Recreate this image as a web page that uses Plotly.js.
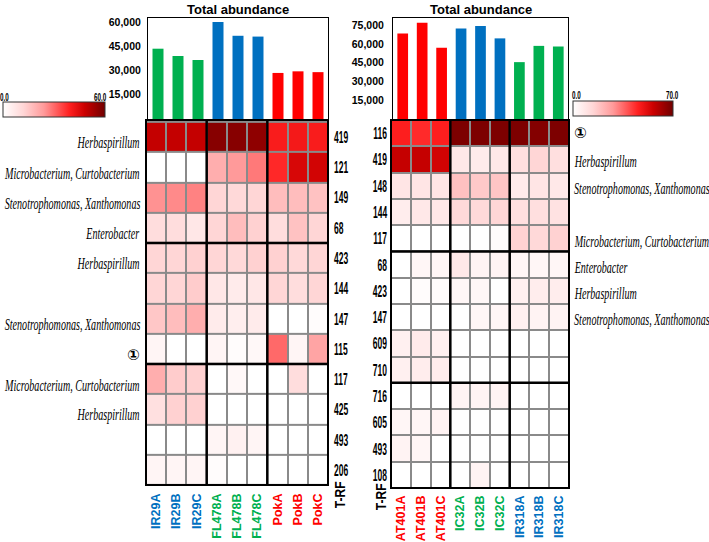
<!DOCTYPE html>
<html><head><meta charset="utf-8">
<script src="https://cdn.plot.ly/plotly-3.0.1.min.js"></script>
<style>html,body{margin:0;padding:0;background:#fff}#chart{width:709px;height:542px}</style>
</head><body><div id="chart"></div>
<script>
// ---- data ----
const leftCols = ["IR29A","IR29B","IR29C","FL478A","FL478B","FL478C","PokA","PokB","PokC"];
const leftBars = [43500, 39000, 36500, 60000, 51500, 51000, 28500, 29500, 29000];
const leftRows = ["419","121","149","68","423","144","147","115","117","425","493","206"];
const leftSpecies = ["Herbaspirillum","Microbacterium, Curtobacterium","Stenotrophomonas, Xanthomonas","Enterobacter","Herbaspirillum","","Stenotrophomonas, Xanthomonas","①","Microbacterium, Curtobacterium","Herbaspirillum","",""];
const leftZ = [
  [49,49,49,57,57,56,40,41,40],
  [0,0,0,20,24,28,38,46,47],
  [25,26,27,12,11,12,17,17,16],
  [10,10,7,12,17,13,10,16,12],
  [12,12,13,12,11,13,13,11,12],
  [12,12,14,7,6,7,12,10,12],
  [15,17,20,6,5,6,0,0,1],
  [3,0,0,3,1,2,30,3,22],
  [20,14,13,0,2,0,0,10,0],
  [9,13,13,0,0,0,0,0,0],
  [0,0,0,3,4,3,0,0,0],
  [3,3,3,1,0,0,0,0,0]
];
const leftMax = 60;

const rightCols = ["AT401A","AT401B","AT401C","IC32A","IC32B","IC32C","IR318A","IR318B","IR318C"];
const rightBars = [68500, 77000, 57000, 72500, 74500, 64500, 45500, 58500, 58000];
const rightRows = ["116","419","148","144","117","68","423","147","609","710","716","605","493","108"];
const rightSpecies = ["①","Herbaspirillum","Stenotrophomonas, Xanthomonas","","Microbacterium, Curtobacterium","Enterobacter","Herbaspirillum","Stenotrophomonas, Xanthomonas","","","","","",""];
const rightZ = [
  [46,44,46,68,68,68,68,67,68],
  [57,57,55,8,7,8,11,14,11],
  [9,9,9,19,17,18,7,9,8],
  [6,8,8,13,13,14,11,11,10],
  [0,0,0,0,0,1,15,13,15],
  [0,3,3,8,4,4,3,3,3],
  [0,1,1,3,3,0,5,6,6],
  [0,0,0,0,3,3,5,4,4],
  [5,7,5,0,0,0,0,0,0],
  [5,6,6,0,0,0,0,0,0],
  [0,0,0,4,4,4,0,0,0],
  [3,3,4,0,0,0,0,0,0],
  [4,3,0,0,0,0,0,0,0],
  [0,0,0,0,4,0,0,0,0]
];
const rightMax = 70;
const barTicks = {left:[15000,30000,45000,60000], right:[15000,30000,45000,60000,75000]};
const titleText = "Total abundance";
const trfLabel = "T-RF";

// ---- style ----
const W = 709, H = 542;
const px = v => v / W, py = v => 1 - v / H;
const BLUE = "#0070c0", GREEN = "#00b050", RED = "#ff0000";
const leftBarColors = [GREEN,GREEN,GREEN,BLUE,BLUE,BLUE,RED,RED,RED];
const leftLabelColors = [BLUE,BLUE,BLUE,GREEN,GREEN,GREEN,RED,RED,RED];
const rightBarColors = [RED,RED,RED,BLUE,BLUE,BLUE,GREEN,GREEN,GREEN];
const rightLabelColors = [RED,RED,RED,GREEN,GREEN,GREEN,BLUE,BLUE,BLUE];
const SANS = "'Liberation Sans',Arial,sans-serif";
const SERIF = "'Liberation Serif','Times New Roman',serif";
const CIRC = "'DejaVu Sans','Noto Sans CJK JP',sans-serif";
const cscale = [[0,'#ffffff'],[0.2,'#ffd6d6'],[0.4,'#ff9a9a'],[0.65,'#ff2020'],[0.8,'#cc0000'],[1,'#700000']];

const colored = (arr, cols) => arr.map((t,i)=>`<b><span style="color:${cols[i]}">${t}</span></b>`);

const traces = [
  {type:'bar', x:leftCols, y:leftBars, xaxis:'x', yaxis:'y', marker:{color:leftBarColors}, width:0.55, hoverinfo:'skip'},
  {type:'heatmap', x:leftCols, y:leftRows, z:leftZ, xaxis:'x2', yaxis:'y2', zmin:0, zmax:leftMax,
   colorscale:cscale, xgap:2, ygap:2, hoverinfo:'skip',
   colorbar:{orientation:'h', x:px(54), xanchor:'center', y:py(118), yanchor:'bottom', len:102/W, lenmode:'fraction',
             thickness:15, xpad:0, ypad:0, outlinewidth:1, outlinecolor:'#333', showticklabels:false, ticks:''}},
  {type:'bar', x:rightCols, y:rightBars, xaxis:'x3', yaxis:'y3', marker:{color:rightBarColors}, width:0.55, hoverinfo:'skip'},
  {type:'heatmap', x:rightCols, y:rightRows, z:rightZ, xaxis:'x4', yaxis:'y4', zmin:0, zmax:rightMax,
   colorscale:cscale, xgap:2, ygap:2, hoverinfo:'skip',
   colorbar:{orientation:'h', x:px(623), xanchor:'center', y:py(117), yanchor:'bottom', len:100/W, lenmode:'fraction',
             thickness:15, xpad:0, ypad:0, outlinewidth:1, outlinecolor:'#333', showticklabels:false, ticks:''}}
];

const barY = (dom, rng, ticks, anchor, standoff) => ({domain:dom, anchor:anchor, range:rng, tickvals:ticks, tickformat:',', showgrid:false, zeroline:false,
  showline:true, mirror:true, linecolor:'#000', linewidth:1, ticks:'', ticklabelstandoff:standoff,
  tickfont:{family:SANS, size:10.5, color:'#000', weight:'bold'}});
const barX = (dom, anchor) => ({domain:dom, anchor:anchor, range:[-0.5,8.5], showticklabels:false, showline:true, mirror:true,
  linecolor:'#000', linewidth:1, ticks:'', showgrid:false, zeroline:false});

const layout = {
  width:W, height:H, margin:{l:0,r:0,t:0,b:0}, paper_bgcolor:'#fff', plot_bgcolor:'rgba(0,0,0,0)',
  showlegend:false, font:{family:SANS, color:'#000'},
  xaxis: barX([px(148), px(328)], 'y'),
  yaxis: barY([py(119), py(18)], [0, 62500], barTicks.left, 'x', 4),
  xaxis2:{domain:[px(146), px(328)], anchor:'y2', type:'category', tickvals:leftCols, ticktext:colored(leftCols, leftLabelColors),
    tickangle:-90, ticks:'', showgrid:false, zeroline:false, showline:false, ticklabelstandoff:5,
    tickfont:{family:SANS, size:12.5}},
  yaxis2:{domain:[py(485), py(120)], anchor:'x2', type:'category', autorange:'reversed', side:'right', ticks:'',
    showgrid:false, zeroline:false, showline:false, ticklabelstandoff:5,
    tickfont:{family:SANS, size:17, color:'#000', weight:'bold'}},
  xaxis3: barX([px(393), px(568)], 'y3'),
  yaxis3: barY([py(119), py(18)], [0, 80800], barTicks.right, 'x3', 6),
  xaxis4:{domain:[px(391), px(569)], anchor:'y4', type:'category', tickvals:rightCols, ticktext:colored(rightCols, rightLabelColors),
    tickangle:-90, ticks:'', showgrid:false, zeroline:false, showline:false, ticklabelstandoff:4,
    tickfont:{family:SANS, size:12.5}},
  yaxis4:{domain:[py(488), py(120)], anchor:'x4', type:'category', autorange:'reversed', side:'left', ticks:'',
    showgrid:false, zeroline:false, showline:false, ticklabelstandoff:3,
    tickfont:{family:SANS, size:17, color:'#000', weight:'bold'}},
  shapes:[], annotations:[]
};

function heatDeco(xa, ya, vlines, hlines){
  const xr = xa + ' domain', yr = ya + ' domain';
  layout.shapes.push({type:'rect', xref:xr, yref:yr, x0:0, x1:1, y0:0, y1:1, fillcolor:'#8a8a8a', line:{width:0}, layer:'below'});
  vlines.forEach(v => layout.shapes.push({type:'line', xref:xa, yref:yr, x0:v, x1:v, y0:0, y1:1, line:{color:'#000', width:2.5}}));
  hlines.forEach(h => layout.shapes.push({type:'line', xref:xr, yref:ya, x0:0, x1:1, y0:h, y1:h, line:{color:'#000', width:2.5}}));
  layout.shapes.push({type:'rect', xref:xr, yref:yr, x0:0, x1:1, y0:0, y1:1, line:{color:'#000', width:2}});
}
heatDeco('x2','y2',[2.5,5.5],[3.5,7.5]);
heatDeco('x4','y4',[2.5,5.5],[4.5,9.5]);

// squeeze registry: annotation index -> [scaleX, anchor]
const squeeze = {};
const addAnn = (a, sq) => { if (sq) squeeze[layout.annotations.length] = sq; layout.annotations.push(a); };

// titles
addAnn({text:`<b>${titleText}</b>`, xref:'x domain', yref:'paper', x:0.5, y:py(0), yanchor:'top', showarrow:false, font:{family:SANS, size:13}});
addAnn({text:`<b>${titleText}</b>`, xref:'x3 domain', yref:'paper', x:0.5, y:py(0), yanchor:'top', showarrow:false, font:{family:SANS, size:13}});
// colorbar end labels
const cbLab = (t, x, y) => addAnn({text:`<b>${t}</b>`, xref:'paper', yref:'paper', x:px(x), y:py(y), xanchor:'center', yanchor:'middle', showarrow:false, font:{family:SANS, size:10.5}}, [0.6,'middle']);
cbLab('0.0', 4, 97); cbLab(leftMax.toFixed(1), 100, 97);
cbLab('0.0', 576, 95); cbLab(rightMax.toFixed(1), 672, 95);
// T-RF labels
const trf = (x, y) => addAnn({text:`<b>${trfLabel}</b>`, xref:'paper', yref:'paper', x:px(x), y:py(y), textangle:-90, showarrow:false, font:{family:SANS, size:15}}, [0.8,'middle']);
trf(340, 514); trf(381, 516);
// species labels
const spFont = {family:SERIF, size:16, style:'italic'};
const circFont = {family:CIRC, size:15, weight:'bold'};
leftSpecies.forEach((s,i) => { if (s) addAnn({text:s, xref:'paper', yref:'y2', x:px(142), y:i, yshift:-6, xanchor:'right', yanchor:'middle', showarrow:false,
  font: s === '①' ? circFont : spFont}, s === '①' ? null : [0.63,'end']); });
rightSpecies.forEach((s,i) => { if (s) addAnn({text:s, xref:'paper', yref:'y4', x:px(572), y:i, yshift: s === '①' ? 0 : -3, xanchor:'left', yanchor:'middle', showarrow:false,
  font: s === '①' ? circFont : spFont}, s === '①' ? null : [0.63,'start']); });

function squeezeText(t, sx, anchor){
  const bb = t.getBBox();
  const ax = anchor === 'end' ? bb.x + bb.width : anchor === 'start' ? bb.x : bb.x + bb.width / 2;
  const prev = t.getAttribute('transform') || '';
  t.setAttribute('transform', `${prev} translate(${ax},0) scale(${sx},1) translate(${-ax},0)`);
}

Plotly.newPlot('chart', traces, layout, {staticPlot:true, displayModeBar:false}).then(gd => {
  gd.querySelectorAll('.annotation').forEach(g => {
    const sq = squeeze[+g.getAttribute('data-index')];
    if (!sq) return;
    const t = g.querySelector('text.annotation-text');
    if (t) squeezeText(t, sq[0], sq[1]);
  });
  gd.querySelectorAll('.y2tick text').forEach(t => squeezeText(t, 0.5, 'start'));
  gd.querySelectorAll('.y4tick text').forEach(t => squeezeText(t, 0.5, 'end'));
});
</script>
</body></html>
